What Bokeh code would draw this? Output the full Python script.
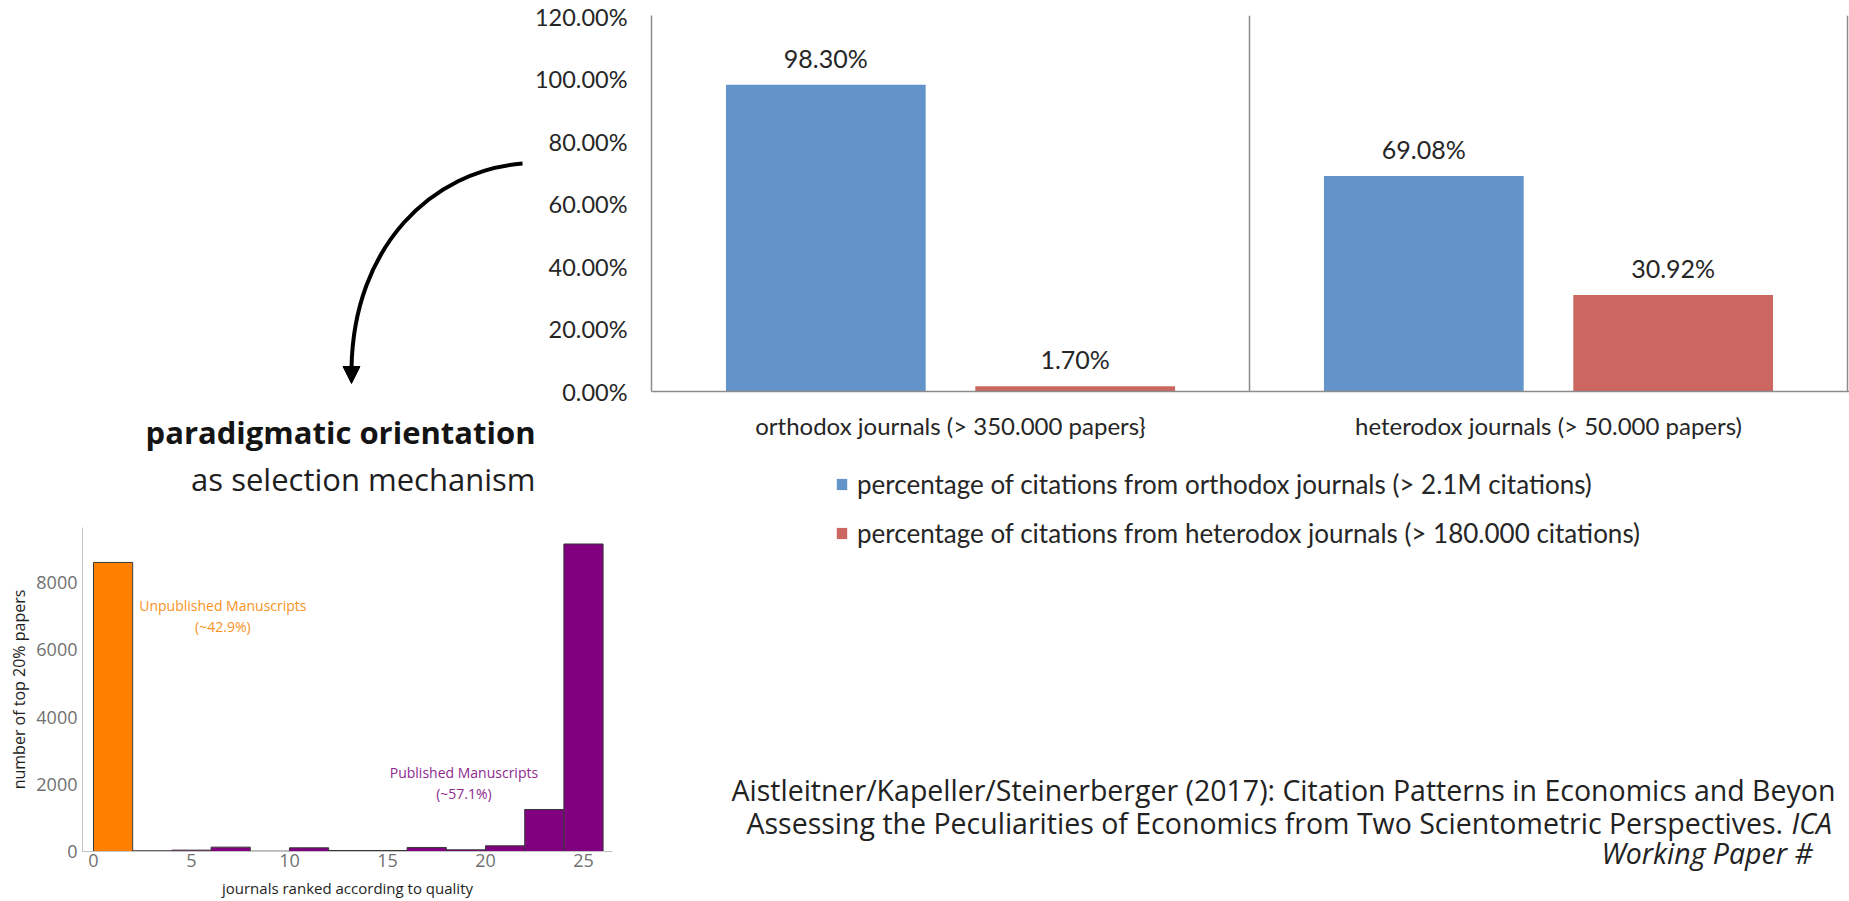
from bokeh.plotting import figure
from bokeh.models import (Range1d, FixedTicker, Span, Legend, LegendItem, GridBox,
                          Arrow, NormalHead)
from bokeh.core.properties import value
from bokeh.embed import file_html
from bokeh.resources import INLINE

# ---------------- data: main bar chart ----------------
categories = ["orthodox journals (> 350.000 papers}", "heterodox journals (> 50.000 papers)"]
series_labels = ["percentage of citations from orthodox journals (> 2.1M citations)",
                 "percentage of citations from heterodox journals (> 180.000 citations)"]
orthodox_pct = [98.30, 69.08]
heterodox_pct = [1.70, 30.92]
pct_ticks = [0, 20, 40, 60, 80, 100, 120]
pct_tick_labels = ["0.00%", "20.00%", "40.00%", "60.00%", "80.00%", "100.00%", "120.00%"]

# ---------------- data: histogram ----------------
hist_bin_edges = [0, 2, 4, 6, 8, 10, 12, 14, 16, 18, 20, 22, 24, 26]
hist_counts = [8600, 20, 40, 130, 10, 110, 30, 30, 120, 50, 170, 1250, 9150]
hist_status = ["unpublished"] + ["published"] * 12
hist_xticks = [0, 5, 10, 15, 20, 25]
hist_yticks = [0, 2000, 4000, 6000, 8000]
hist_notes = ["Unpublished Manuscripts", "(~42.9%)", "Published Manuscripts", "(~57.1%)"]

# ---------------- texts ----------------
title_bold = "paradigmatic orientation"
title_rest = "as selection mechanism"
cite_1 = "Aistleitner/Kapeller/Steinerberger (2017): Citation Patterns in Economics and Beyon"
cite_2 = "Assessing the Peculiarities of Economics from Two Scientometric Perspectives."
cite_2i = "ICA"
cite_3i = "Working Paper #"

BLUE = "#6294C9"
RED = "#CB6661"
ORANGE = "#FF8000"
PURPLE = "#800080"
AXIS_GREY = "#8c8c8c"
TXT = "#262626"
CAL = value("Lato")
AVN = value("Open Sans")

PAGE_W, PAGE_H = 1849, 900
COLS = [530, 90, 215, 1014]          # x boundaries 0,530,620,835,1849
ROWS = [450, 18, 37, 55, 340]        # y boundaries 0,450,468,505,560,900


def bare(**kw):
    return figure(toolbar_location=None, output_backend="svg", outline_line_color=None,
                  background_fill_color=None, border_fill_color=None,
                  frame_align=False, **kw)


# ================= background figure (whole page) =================
bg = bare(width=PAGE_W, height=PAGE_H, x_range=Range1d(0, PAGE_W),
          y_range=Range1d(PAGE_H, 0), x_axis_type=None, y_axis_type=None, min_border=0)
bg.bezier(x0=[522], y0=[163], x1=[351], y1=[368], cx0=[432], cy0=[170],
          cx1=[353], cy1=[245], line_width=4, line_color="black")
bg.add_layout(Arrow(end=NormalHead(size=17, fill_color="black", line_color="black"),
                    x_start=351, y_start=362, x_end=351, y_end=383, line_alpha=0))
bg.text(x=[535], y=[431], text=[title_bold], text_align="right", text_baseline="alphabetic",
        text_font=AVN, text_font_style="bold", text_font_size="31px", text_color="#141414")
bg.text(x=[535], y=[478], text=[title_rest], text_align="right", text_baseline="alphabetic",
        text_font=AVN, text_font_size="31px", text_color="#1e1e1e")
cite_kw = dict(text_align="left", text_baseline="alphabetic", text_font=AVN,
               text_font_size="28.5px", text_color="#222222")
bg.text(x=[731], y=[789], text=[cite_1], **cite_kw)
bg.text(x=[746], y=[822], text=[cite_2], **cite_kw)
bg.text(x=[1791], y=[822], text=[cite_2i], text_font_style="italic", **cite_kw)
bg.text(x=[1601], y=[852], text=[cite_3i], text_font_style="italic", **cite_kw)

# ================= main bar chart =================
M_LEFT = COLS[0]
M_W, M_H = PAGE_W - M_LEFT, ROWS[0]
half_cat_px = 299.0
frame_w = M_W - 121
main = bare(width=M_W, height=M_H, x_range=Range1d(0, frame_w / half_cat_px),
            y_range=Range1d(0, 120.5), min_border_left=121, min_border_right=0,
            min_border_top=15, min_border_bottom=M_H - 391)
main.xgrid.visible = False
main.ygrid.visible = False

centers = [2 * i + 1 for i in range(len(categories))]
bar_w = 0.668
off = 0.417
xb = [c - off for c in centers]
xr = [c + off for c in centers]
main.vbar(x=xb, top=orthodox_pct, bottom=0, width=bar_w, fill_color=BLUE, line_color=None)
main.vbar(x=xr, top=heterodox_pct, bottom=0, width=bar_w, fill_color=RED, line_color=None)
vals = orthodox_pct + heterodox_pct
main.text(x=xb + xr, y=vals, text=[f"{v:.2f}%" for v in vals], text_align="center",
          text_baseline="middle", y_offset=-27, text_font=CAL, text_font_size="25px",
          text_color=TXT)
for k in range(1, len(categories) + 1):
    main.add_layout(Span(location=2 * k, dimension="height",
                         line_color=AXIS_GREY, line_width=1.5))

ya = main.yaxis[0]
ya.ticker = FixedTicker(ticks=pct_ticks)
ya.major_label_overrides = dict(zip(pct_ticks, pct_tick_labels))
ya.major_tick_in = 0
ya.major_tick_out = 0
ya.minor_tick_in = 0
ya.minor_tick_out = 0
ya.major_label_standoff = 24
ya.axis_line_color = AXIS_GREY
ya.axis_line_width = 1.5
ya.major_label_text_font = "Lato"
ya.major_label_text_font_size = "23.5px"
ya.major_label_text_color = TXT

xa = main.xaxis[0]
xa.ticker = FixedTicker(ticks=centers)
xa.major_label_overrides = dict(zip(centers, categories))
xa.major_tick_in = 0
xa.major_tick_out = 0
xa.major_label_standoff = 19
xa.axis_line_color = AXIS_GREY
xa.axis_line_width = 1.5
xa.major_label_text_font = "Lato"
xa.major_label_text_font_size = "24px"
xa.major_label_text_color = TXT

# ================= legend of the main chart (own small panel) =================
# the legend entries point at copies of the two bar series, kept outside this panel's view
L_W, L_H = COLS[3], ROWS[2] + ROWS[3]
leg = bare(width=L_W, height=L_H, x_range=Range1d(-20, -10), y_range=Range1d(-20, -10),
           x_axis_type=None, y_axis_type=None, min_border=0)
lb = leg.vbar(x=xb, top=orthodox_pct, bottom=0, width=bar_w, fill_color=BLUE, line_color=None)
lr = leg.vbar(x=xr, top=heterodox_pct, bottom=0, width=bar_w, fill_color=RED, line_color=None)
legend = Legend(items=[LegendItem(label=series_labels[0], renderers=[lb]),
                       LegendItem(label=series_labels[1], renderers=[lr])],
                location="top_left", orientation="vertical", glyph_width=13,
                glyph_height=14, label_standoff=9, spacing=17, padding=0, margin=0,
                border_line_alpha=0, background_fill_alpha=0,
                label_text_font="Lato", label_text_font_size="26px",
                label_text_color=TXT)
leg.add_layout(legend, "center")

# ================= histogram =================
H_W = COLS[0] + COLS[1]
H_TOP = ROWS[0] + ROWS[1] + ROWS[2]
hist = bare(width=H_W, height=PAGE_H - H_TOP, x_range=Range1d(-0.56, 26.48),
            y_range=Range1d(0, 9640), min_border_left=82, min_border_right=8,
            min_border_top=527 - H_TOP, min_border_bottom=PAGE_H - 851)
hist.xgrid.visible = False
hist.ygrid.visible = False
hist_colors = [ORANGE if s == "unpublished" else PURPLE for s in hist_status]
hist.quad(left=hist_bin_edges[:-1], right=hist_bin_edges[1:], bottom=0, top=hist_counts,
          fill_color=hist_colors, line_color="#3a3a3a", line_width=1)
hist.text(x=[6.6, 6.6], y=[7320, 6700], text=hist_notes[:2], text_align="center",
          text_baseline="middle", text_font=AVN, text_font_size="14px",
          text_color="#F7931E")
hist.text(x=[18.9, 18.9], y=[2350, 1730], text=hist_notes[2:], text_align="center",
          text_baseline="middle", text_font=AVN, text_font_size="14px",
          text_color="#8E2A8E")
for ax, ticks in ((hist.xaxis[0], hist_xticks), (hist.yaxis[0], hist_yticks)):
    ax.ticker = FixedTicker(ticks=ticks)
    ax.major_tick_in = 0
    ax.major_tick_out = 0
    ax.minor_tick_in = 0
    ax.minor_tick_out = 0
    ax.axis_line_color = "#c4c4c4"
    ax.axis_line_width = 1
    ax.major_label_text_font = "Open Sans"
    ax.major_label_text_font_size = "18px"
    ax.major_label_text_color = "#707070"
    ax.axis_label_text_font = "Open Sans"
    ax.axis_label_text_font_size = "15px"
    ax.axis_label_text_font_style = "normal"
    ax.axis_label_text_color = "#1e1e1e"
hist.xaxis[0].axis_label = "journals ranked according to quality"
hist.xaxis[0].major_label_standoff = 2
hist.xaxis[0].axis_label_standoff = 8
hist.yaxis[0].axis_label = "number of top 20% papers"
hist.yaxis[0].axis_label_text_font_size = "16px"
hist.yaxis[0].major_label_standoff = 5
hist.yaxis[0].axis_label_standoff = 3

# ================= page layout =================
page = GridBox(children=[(bg, 0, 0, 5, 4), (main, 0, 1, 1, 3), (leg, 2, 3, 2, 1),
                         (hist, 3, 0, 2, 2)],
               rows=[f"{r}px" for r in ROWS], cols=[f"{c}px" for c in COLS])

open("out.html", "w").write(file_html(page, INLINE))
